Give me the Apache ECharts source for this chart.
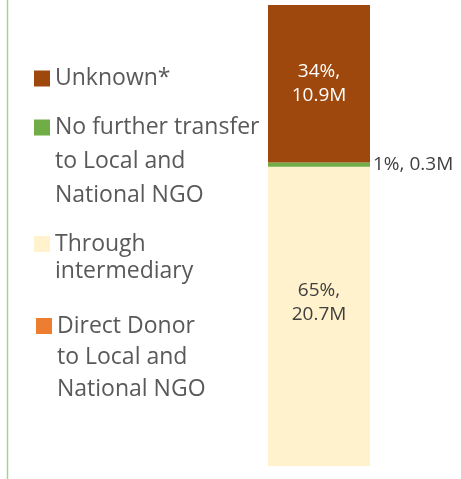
<!DOCTYPE html>
<html>
<head>
<meta charset="utf-8">
<script src="https://cdn.jsdelivr.net/npm/echarts@6/dist/echarts.min.js"></script>
<style>
  html, body { margin: 0; padding: 0; background: #fff; }
  #chart { width: 461px; height: 479px; }
</style>
</head>
<body>
<div id="chart"></div>
<script>
// values in millions, bottom of the stack first
var seriesNames = ['Direct Donor\nto Local and\nNational NGO', 'Through\nintermediary', 'No further transfer\nto Local and\nNational NGO', 'Unknown*'];
var seriesValues = [0, 20.7, 0.3, 10.9];
var seriesColors = ['#ed7d31', '#fff2cc', '#70ad47', '#9e480e'];
var category = ['Funding'];

var total = seriesValues.reduce(function (a, b) { return a + b; }, 0);
var font = 'Open Sans';

function pctLabel(v, sep) {
    return Math.round(v / total * 100) + '%,' + sep + v + 'M';
}

window.onload = function () {
    var myChart = echarts.init(document.getElementById('chart'));

    // one legend per item, square lined up with the first text line
    var legendSpots = [
        { name: seriesNames[3], left: 34, mid: 78.5, lines: 1, lh: 28 },
        { name: seriesNames[2], left: 34, mid: 127.5, lines: 3, lh: 34 },
        { name: seriesNames[1], left: 34, mid: 244, lines: 2, lh: 27 },
        { name: seriesNames[0], left: 36, mid: 326, lines: 3, lh: 31.5 }
    ];
    var legends = legendSpots.map(function (s) {
        var h = s.lines * s.lh;
        var t = s.lh / 2 - 8;
        var icon = 'path://M0,0L16,0Z M0,' + t + 'L16,' + t + 'L16,' + (t + 16) + 'L0,' + (t + 16) + 'Z M0,' + h + 'L16,' + h + 'Z';
        return {
            data: [s.name],
            left: s.left,
            top: s.mid - s.lh / 2,
            padding: 0,
            itemWidth: 16,
            itemHeight: h,
            selectedMode: false,
            icon: icon,
            textStyle: {
                fontFamily: font,
                fontSize: 23,
                color: '#595959',
                lineHeight: s.lh
            }
        };
    });

    var series = seriesNames.map(function (name, i) {
        return {
            name: name,
            type: 'bar',
            stack: 'total',
            barWidth: '100%',
            data: [seriesValues[i]],
            itemStyle: { color: seriesColors[i] },
            label: { show: false }
        };
    });
    series[3].label = {
        show: true,
        position: 'inside',
        color: '#ffffff',
        fontFamily: font,
        fontSize: 19,
        lineHeight: 24,
        formatter: function (p) { return pctLabel(p.value, '\n'); }
    };
    series[2].label = {
        show: true,
        position: 'right',
        distance: 3,
        color: '#404040',
        fontFamily: font,
        fontSize: 19,
        formatter: function (p) { return pctLabel(p.value, ' '); }
    };
    series[1].label = {
        show: true,
        position: 'inside',
        offset: [0, -14],
        color: '#404040',
        fontFamily: font,
        fontSize: 19,
        lineHeight: 24,
        formatter: function (p) { return pctLabel(p.value, '\n'); }
    };

    var option = {
        animation: false,
        backgroundColor: '#ffffff',
        legend: legends,
        grid: { left: 268, right: 91, top: 5, bottom: 13 },
        xAxis: {
            type: 'category',
            data: category,
            show: false
        },
        yAxis: {
            type: 'value',
            min: 0,
            max: total,
            show: false
        },
        graphic: [{
            type: 'line',
            shape: { x1: 7.5, y1: 0, x2: 7.5, y2: 479 },
            style: { stroke: '#a9d18e', lineWidth: 1.5 }
        }],
        series: series
    };

    myChart.setOption(option);
};
</script>
</body>
</html>
